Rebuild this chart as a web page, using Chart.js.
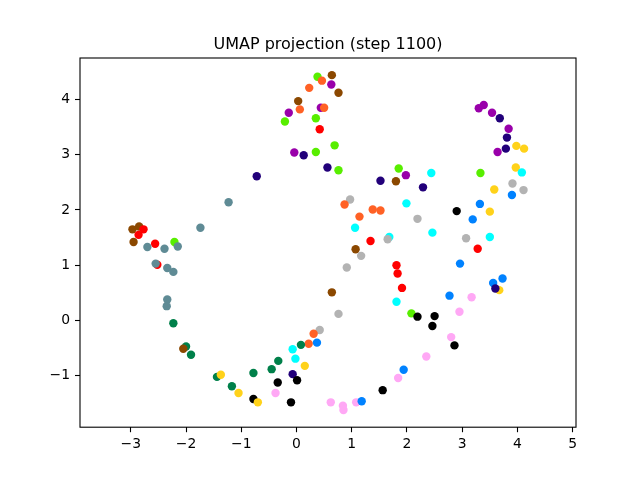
<!DOCTYPE html>
<html>
<head>
<meta charset="utf-8">
<script src="https://cdn.jsdelivr.net/npm/chart.js@4"></script>
<style>
  body { margin: 0; background: #fff; }
  canvas { display: block; }
</style>
</head>
<body>
<canvas id="umapChart" width="640" height="480"></canvas>
<script>
// Dados do gráfico
const chartTitle = 'UMAP projection (step 1100)';
const xTicks = [-3, -2, -1, 0, 1, 2, 3, 4, 5];
const yTicks = [-1, 0, 1, 2, 3, 4];

// cores das classes
const classColors = [
    '#ff0000', '#ff6125', '#8b4800', '#58ee00', '#9900aa', '#22007a', '#00ffff',
    '#b3b3b3', '#0082ff', '#ffd21a', '#000000', '#ffa8f5', '#5f8b95', '#00804a'
];

const pointX = [
    0.38, 0.64, 0.46, 0.63, 0.23, 0.76, 0.03, 0.06, -0.14, 0.44, 0.50, 0.35, -0.21, 0.42, 0.69,
    -0.04, 0.13, 0.35, 0.56, 0.76, -0.72, 1.85, 1.98, 1.52, 1.80,
    3.30, 3.39, 3.54, 3.68, 3.84, 3.81, 3.79, 3.64, 3.98, 4.12, 3.97, 4.08, 2.44, 3.33, 3.91,
    2.29, 3.58, 4.11, 3.90, 3.32, 3.50, 2.90, 3.19, 2.19, 2.46, 3.07, 3.50, 3.28, 2.96, 3.73,
    3.56, 3.67, 3.60, 2.77, 3.17, 2.95,
    0.97, 0.87, 1.38, 1.52, 1.14, 1.99, 1.06, 1.34, 1.68, 1.65, 1.07, 1.17, 0.91, 1.81, 1.83,
    1.91, 0.64, 1.81,
    0.76, 2.08, 2.19, 0.42, 0.31, 0.22, 0.37, 0.08, -0.07, -0.02, 0.15, -0.33, -0.45, -0.78, -0.07,
    0.01, -0.34, -0.38, -0.78, -0.70, -0.10, 0.62, 0.84, 0.85, 1.08, 1.18, 1.56, 1.84, 1.94, 2.50,
    2.46, 2.80, 2.86, 2.35,
    -1.23, -1.74, -2.97, -2.85, -2.77, -2.86, -2.95, -2.56, -2.21, -2.15, -2.70, -2.39, -2.52, -2.55, -2.34,
    -2.23, -2.34, -2.35, -2.23, -2.00, -2.05, -1.91, -1.44, -1.37, -1.17, -1.05
];

const pointY = [
    4.41, 4.44, 4.34, 4.27, 4.21, 4.12, 3.97, 3.82, 3.76, 3.85, 3.85, 3.66, 3.60, 3.46, 3.17,
    3.04, 2.99, 3.05, 2.77, 2.72, 2.61, 2.75, 2.63, 2.53, 2.52,
    3.84, 3.90, 3.76, 3.66, 3.47, 3.31, 3.11, 3.05, 3.16, 3.11, 2.77, 2.68, 2.67, 2.67, 2.48,
    2.41, 2.37, 2.36, 2.27, 2.11, 1.97, 1.98, 1.83, 1.84, 1.59, 1.49, 1.51, 1.30, 1.03, 0.76,
    0.68, 0.55, 0.58, 0.45, 0.42, 0.16,
    2.19, 2.10, 2.01, 1.99, 1.88, 2.12, 1.68, 1.44, 1.51, 1.47, 1.29, 1.17, 0.96, 1.00, 0.85,
    0.59, 0.51, 0.34,
    0.12, 0.13, 0.07, -0.17, -0.24, -0.42, -0.40, -0.44, -0.52, -0.69, -0.82, -0.73, -0.88, -0.95, -0.97,
    -1.08, -1.12, -1.31, -1.42, -1.48, -1.48, -1.48, -1.54, -1.62, -1.48, -1.46, -1.26, -1.04, -0.89, 0.08,
    -0.10, -0.30, -0.45, -0.65,
    2.14, 1.68, 1.65, 1.70, 1.65, 1.55, 1.42, 1.39, 1.42, 1.34, 1.33, 1.30, 1.01, 1.03, 0.95,
    0.88, 0.38, 0.26, -0.05, -0.47, -0.51, -0.62, -1.02, -0.98, -1.19, -1.31
];

const pointClass = [
    3, 2, 1, 4, 1, 2, 2, 1, 4, 4, 1, 3, 3, 0, 3,
    4, 5, 3, 5, 3, 5, 3, 4, 5, 2,
    4, 4, 4, 5, 4, 5, 5, 4, 9, 9, 9, 6, 6, 3, 7,
    5, 9, 7, 8, 8, 9, 10, 8, 7, 6, 7, 6, 0, 8, 8,
    8, 9, 5, 8, 11, 11,
    7, 1, 1, 1, 1, 6, 6, 0, 6, 7, 2, 7, 7, 0, 0,
    0, 2, 6,
    7, 3, 10, 7, 1, 1, 8, 13, 6, 6, 9, 13, 13, 13, 5,
    10, 10, 11, 10, 9, 10, 11, 11, 11, 11, 8, 10, 11, 8, 10,
    10, 11, 10, 11,
    12, 12, 2, 2, 0, 0, 2, 0, 3, 12, 12, 12, 0, 12, 12,
    12, 12, 12, 13, 13, 2, 13, 13, 9, 13, 9
];

function fmtMinus(v) {
    return String(v).replace('-', '\u2212');
}

// moldura completa e título, como no matplotlib
const framePlugin = {
    id: 'frame',
    afterDraw(chart) {
        const { ctx, chartArea } = chart;
        ctx.save();
        ctx.strokeStyle = '#000';
        ctx.lineWidth = 1.1;
        ctx.strokeRect(chartArea.left, chartArea.top,
            chartArea.right - chartArea.left, chartArea.bottom - chartArea.top);
        ctx.fillStyle = '#000';
        ctx.font = '16px "DejaVu Sans"';
        ctx.textAlign = 'center';
        ctx.textBaseline = 'alphabetic';
        ctx.fillText(chartTitle, (chartArea.left + chartArea.right) / 2, chartArea.top - 9);
        ctx.restore();
    }
};

const ctx = document.getElementById('umapChart').getContext('2d');

new Chart(ctx, {
    type: 'scatter',
    data: {
        datasets: [{
            data: pointX.map((x, i) => ({ x: x, y: pointY[i] })),
            backgroundColor: pointClass.map(c => classColors[c]),
            borderWidth: 0,
            pointRadius: 4.2,
            pointHoverRadius: 4.2
        }]
    },
    options: {
        responsive: false,
        animation: false,
        devicePixelRatio: 1,
        layout: { padding: { top: 58, right: 64, left: 0, bottom: 0 } },
        plugins: {
            legend: { display: false },
            tooltip: { enabled: false },
            title: { display: false }
        },
        scales: {
            x: {
                type: 'linear',
                min: -3.92,
                max: 5.06,
                afterFit(scale) { scale.height = 52.8; },
                afterBuildTicks(scale) { scale.ticks = xTicks.map(v => ({ value: v })); },
                grid: { drawOnChartArea: false, tickLength: 5, color: '#000', tickWidth: 1.1 },
                border: { display: false },
                ticks: {
                    color: '#000',
                    padding: 4,
                    maxRotation: 0,
                    font: { family: 'DejaVu Sans', size: 13.9 },
                    callback: v => fmtMinus(v)
                }
            },
            y: {
                type: 'linear',
                min: -1.93,
                max: 4.75,
                afterFit(scale) { scale.width = 80; },
                afterBuildTicks(scale) { scale.ticks = yTicks.map(v => ({ value: v })); },
                grid: { drawOnChartArea: false, tickLength: 5, color: '#000', tickWidth: 1.1 },
                border: { display: false },
                ticks: {
                    color: '#000',
                    padding: 5,
                    font: { family: 'DejaVu Sans', size: 13.9 },
                    callback: v => fmtMinus(v)
                }
            }
        }
    },
    plugins: [framePlugin]
});
</script>
</body>
</html>
